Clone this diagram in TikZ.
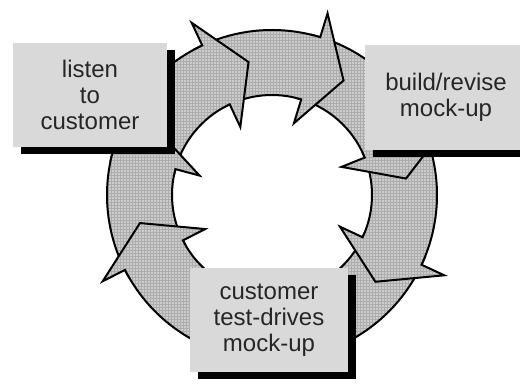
\documentclass[tikz,border=0pt]{standalone}
\usepackage{fontspec}
\setmainfont{Liberation Sans}
\usetikzlibrary{patterns,shadows}

\tikzset{
  ringarrow/.style={draw=black, line width=2pt, preaction={fill=black!20},
    pattern=grid, pattern color=black!32},
  stagebox/.style={fill=black!15, inner sep=0pt, align=center, text=black!85,
    font=\fontsize{24}{26}\selectfont,
    drop shadow={shadow xshift=8pt, shadow yshift=-7pt, fill=black, opacity=1}},
}

% one piece of the ring: tail at #2, head base at #3 (clockwise), #1 = inner barb
\newcommand\ringarrow[3][75]{%
  \path[ringarrow] (#2:165pt) arc[start angle=#2, end angle=#3, radius=165pt]
    -- (#3:190pt) -- ({#3-15}:135pt) -- (#3:#1pt) -- (#3:100pt)
    arc[start angle=#3, end angle=#2, radius=100pt] -- cycle;}

\begin{document}
\begin{tikzpicture}[x=1pt, y=1pt]
  \useasboundingbox (0,0) rectangle (520,385);
  % ring of arrows
  \begin{scope}[shift={(272,190)}]
    \ringarrow[92]{-22}{-65}
    \ringarrow{25}{-25}
    \ringarrow{76}{22}
    \ringarrow{118}{73}
    \ringarrow{168}{115}
    \ringarrow{-150}{-195}
    \ringarrow{-62}{-153}
  \end{scope}
  % the three stages
  \node[stagebox, minimum width=154, minimum height=104] (listen) at (90,290)
    {listen\\to\\customer};
  \node[stagebox, minimum width=162, minimum height=105] (build) at (446,287.5)
    {build/revise\\mock-up};
  \node[stagebox, minimum width=158, minimum height=104] (test) at (269,65)
    {customer\\test-drives\\mock-up};
\end{tikzpicture}
\end{document}
